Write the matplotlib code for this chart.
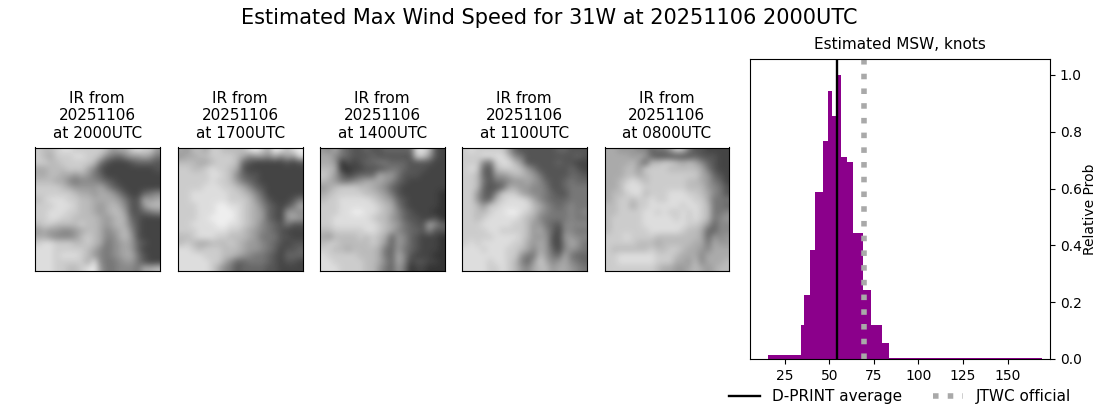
import matplotlib
matplotlib.use("Agg")
import matplotlib.pyplot as plt
import numpy as np

# histogram of estimated MSW (unequal bins)
bin_edges = [15.9, 34, 35.7, 39, 41.9, 46.3, 49.2, 51.4, 53.7, 56.5, 59.8, 63.2, 68.8, 73.3, 79.5, 83.4, 169]
bin_probs = [0.015, 0.12, 0.225, 0.382, 0.589, 0.767, 0.942, 0.854, 1.0, 0.711, 0.693, 0.442, 0.242, 0.12, 0.057, 0.005]
dprint_avg = 54.2
jtwc_official = 69.5

ir_times = ["2000UTC", "1700UTC", "1400UTC", "1100UTC", "0800UTC"]
ir_date = "20251106"

ir_2000 = [
    "cbbcd dcccc cb9aa cdcc9", "cbacc cddcc b8768 99a97", "ccbbc ccccb 75444 56665", "aabbb ccca8 54444 44445",
    "aabba a9a97 64444 44444", "bbbaa 87888 76544 44444", "ccccb a9999 a8654 44444", "ccccc cbaa9 aa975 44678",
    "bcddd ccbba aaa97 55a9a", "cccdd dcbba 9aba8 559bb", "ccddd ccbba 9abb9 55678", "ccddc cbbbb a9aba 65444",
    "bccbb bbcbb a9aba 75444", "9a998 89abb a89ab 85444", "aa988 89bcb a88ab 95444", "cddcc cbbcb a789a 96544",
    "dddcc cccba 8789a 96444", "dddcd ddcb9 8789a a7544", "dddcc cccad 87789 97544", "dddcc bbcde 97788 87aab",
]
ir_1700 = [
    "a9bba ccbbb bdeca edbde", "9aabb ccccb a8998 a8a9d", "bbbaa bcccb 65444 44545", "ccbbc dccba 54444 44444",
    "ccccc ddcb8 65544 44444", "ccccc dccb9 76544 44444", "ccccd ddccb a8654 44444", "ccddd dddcc ba864 44444",
    "ccddd dddcc cb975 44457", "cccdd deedd cba86 5457a", "cccdd deeed cba96 54998", "cccdd eeeed cba96 549a9",
    "ccddd deedd cba87 65755", "cccdd dddcc ba987 65444", "bbcdd dccbb ba977 75544", "bcbaa bbbcb a9987 65455",
    "ddcbc ccbbb a9987 64556", "ddddc ccbba 98776 54666", "ddddd cca86 67776 54554", "ddddd ca875 66665 54444",
]
ir_1400 = [
    "98a76 55655 66666 ddb54", "aa876 55565 55555 cc954", "aa935 45667 76665 55544", "bba33 44555 67765 55444",
    "cb964 5666a 99755 54444", "ba977 89aaa 98654 44444", "9abcc cbba9 86544 44444", "abccc ccbba 97544 44443",
    "bccdd dddcb a9654 44443", "cccdd ddddc ba754 44443", "cccdd eeddc ba865 44433", "ccddd dddcb b9865 54453",
    "ccddd ddddc ba976 55a86", "bbccc ccddc ba876 65855", "a9bbb bcbcb a6986 54443", "bccbb bbbcb 96986 54443",
    "ccbba bbbba 76976 54443", "dcccc cbbba 76a85 44433", "ddccc ccbba 86a84 55443", "dddcc ccbb9 76973 44333",
]
ir_1100 = [
    "cdccc cc965 55555 66555", "cccdd ddb87 55555 55565", "ccc87 cddb9 55555 65544", "cdc65 bcccb 97555 55654",
    "ccb65 99abb a9755 55665", "ccb75 77899 a9865 56766", "ccb65 56aa9 98875 56777", "cc965 8ccca 98876 55777",
    "cc966 bcddd ca876 66777", "ccb9c cdddd dba87 67877", "ccbbc ddeed cb987 77878", "ccbcd ddddc ba877 77877",
    "cccdd dddcc b9976 58888", "ccccd dcccc b9a86 48877", "ccccc ddddc b9995 49988", "cdcdd dddcc a9a95 48a97",
    "dddcd ddccb a8a96 48987", "ddddd ddcc9 77b97 6a766", "ddddc ddcb8 69ca8 9a876", "ddddc cdcb9 8abb9 aa987",
]
ir_0800 = [
    "aa999 88677 9cb75 54444", "aaaa9 a9655 55556 55544", "aaaab 96bbc cbaba 86544", "aaabb 9cccc bbbbb a7544",
    "aaabb abccc ccccc a9654", "aabcd cbccc cccbb a9764", "aabdd dcccc cccbb b9875", "abbcd dbccc dddcc ba875",
    "abccb ccdcc ddddc ca777", "bbcca ccddd ddcdd cb776", "bbccc cddcd ccdcd cb778", "bcccc cdddd dcdcd cb789",
    "bcccc cdddd dddcc b9688", "bcccc ccddd ddcbb a6688", "cccdc cccbb bbbbb a6989", "ccccc bbbab bbbba a7a99",
    "cbbbb bbcbb ccbaa 98aaa", "ccddd dddcc cbaaa 8aaaa", "ccddd dddcc caa9b 8aaab", "ccccc cccba a99ab a9abb",
]
ir_images = [ir_2000, ir_1700, ir_1400, ir_1100, ir_0800]


def to_grey(rows):
    return np.array([[int(c, 16) * 17 for c in r.replace(" ", "")] for r in rows])


fig = plt.figure(figsize=(11, 4.09), dpi=100)
W, H = 1100.0, 409.0
fig.suptitle("Estimated Max Wind Speed for 31W at 20251106 2000UTC", fontsize=15, x=0.4995, y=0.98)

# thumbnails, pixel boxes from the reference
lefts = [35, 178, 320, 462, 604.5]
for left, img, t in zip(lefts, ir_images, ir_times):
    ax = fig.add_axes([left / W, 1 - 271 / H, 124.6 / W, 123.5 / H])
    ax.imshow(to_grey(img), cmap="gray", vmin=0, vmax=255, interpolation="bicubic", aspect="auto")
    ax.set_xticks([])
    ax.set_yticks([])
    ax.set_title("IR from\n%s\nat %s" % (ir_date, t), fontsize=11, pad=7)

ax = fig.add_axes([750 / W, 1 - 359 / H, 300 / W, 300 / H])
ax.stairs(bin_probs, bin_edges, fill=True, color="darkmagenta")
l1 = ax.axvline(dprint_avg, color="black", lw=1.7, label="D-PRINT average")
l2 = ax.axvline(jtwc_official, color="darkgrey", ls=":", lw=4, label="JTWC official")
ax.set_xlim(5.6, 173.7)
ax.set_ylim(0, 1.056)
ax.set_xticks([25, 50, 75, 100, 125, 150])
ax.yaxis.tick_right()
ax.yaxis.set_label_position("right")
ax.set_ylabel("Relative Prob", fontsize=10, labelpad=1)
ax.tick_params(labelsize=10)
ax.set_title("Estimated MSW, knots", fontsize=11, pad=7)
ax.legend(handles=[l1, l2], loc="upper center", bbox_to_anchor=(0.5, -0.055), ncol=2,
          frameon=False, fontsize=11, columnspacing=2.0)

fig.savefig("out.png", dpi=100)
